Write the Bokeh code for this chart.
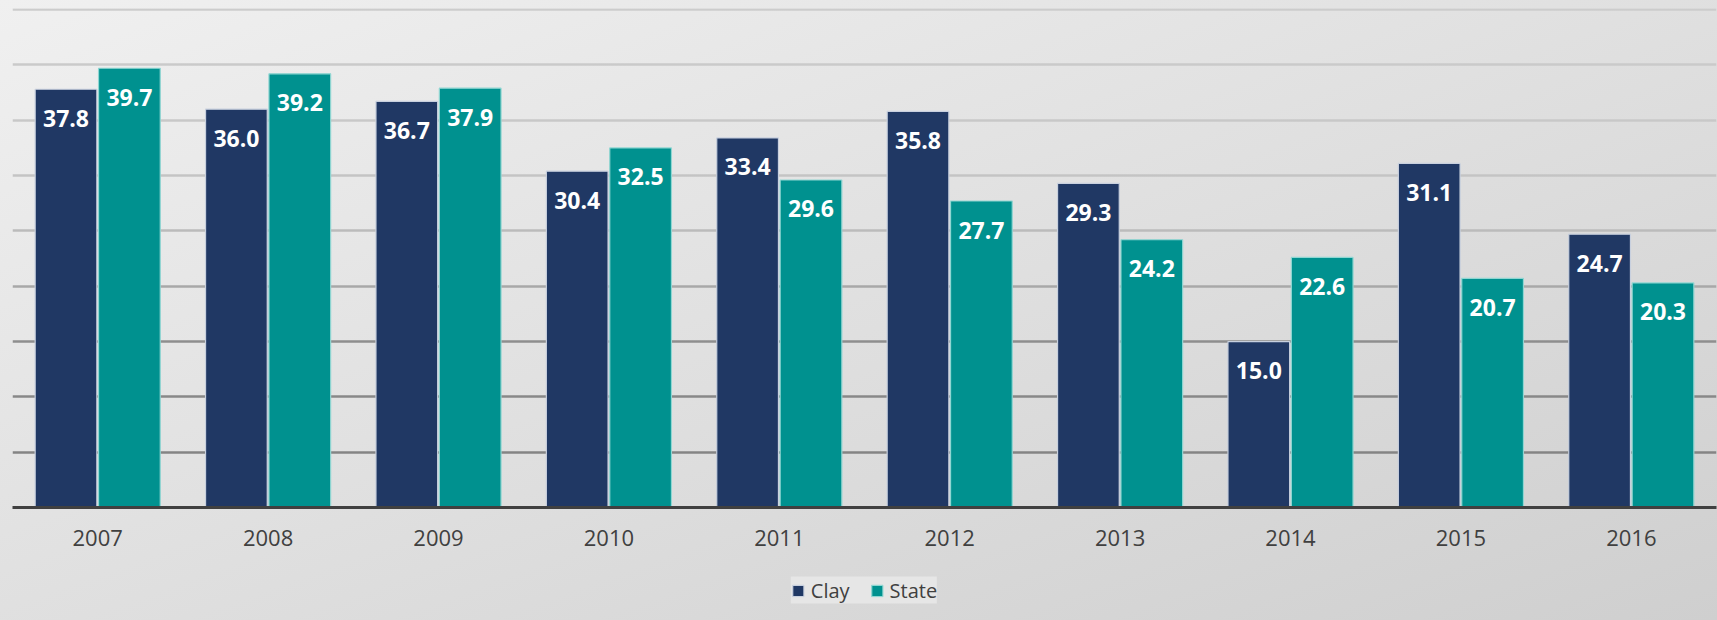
from bokeh.plotting import figure
from bokeh.layouts import column
from bokeh.models import ColumnDataSource, FactorRange, Range1d, Legend, LegendItem
from bokeh.transform import dodge
from bokeh.core.properties import value
from bokeh.embed import file_html
from bokeh.resources import INLINE

years = ["2007", "2008", "2009", "2010", "2011", "2012", "2013", "2014", "2015", "2016"]
clay = [37.8, 36.0, 36.7, 30.4, 33.4, 35.8, 29.3, 15.0, 31.1, 24.7]
state = [39.7, 39.2, 37.9, 32.5, 29.6, 27.7, 24.2, 22.6, 20.7, 20.3]
series_names = ["Clay", "State"]
grid_values = [5, 10, 15, 20, 25, 30, 35, 40, 45]
grid_colors = ["#848484", "#888888", "#8E8E8E", "#A8A8A8", "#BBBBBB", "#C4C4C4", "#C8C8C8", "#CACACA", "#CCCCCC"]

CLAY_C = "#203864"
STATE_C = "#00918F"
CLAY_LINE = "#C8D0DE"
STATE_LINE = "#8FD6D2"

src = ColumnDataSource(dict(
    year=years, clay=clay, state=state,
    clay_lbl=[f"{v:.1f}" for v in clay],
    state_lbl=[f"{v:.1f}" for v in state],
))

p = figure(
    width=1717, height=560,
    x_range=FactorRange(*years, range_padding=0),
    y_range=Range1d(0, 45.1),
    output_backend="svg", toolbar_location=None,
    min_border_left=12, min_border_right=1, min_border_top=8, min_border_bottom=53,
)
p.background_fill_color = None
p.border_fill_color = None
p.outline_line_color = None
p.yaxis.visible = False
p.xgrid.visible = False
p.ygrid.visible = False

p.hspan(y=grid_values, line_color=grid_colors, line_width=2.5)

p.vbar(x=dodge("year", -0.186, range=p.x_range), top="clay", width=0.362, source=src,
       fill_color=CLAY_C, line_color=CLAY_LINE, line_width=1.2)
p.vbar(x=dodge("year", 0.186, range=p.x_range), top="state", width=0.362, source=src,
       fill_color=STATE_C, line_color=STATE_LINE, line_width=1.2)

for col, lbl, off in (("clay", "clay_lbl", -0.186), ("state", "state_lbl", 0.186)):
    p.text(x=dodge("year", off, range=p.x_range), y=col, text=lbl, source=src,
           text_color="white", text_font=value("Open Sans"), text_font_style="bold",
           text_font_size="23px", text_align="center", text_baseline="middle", y_offset=29)

ax = p.xaxis[0]
ax.axis_line_color = "#404040"
ax.axis_line_width = 3
ax.major_tick_line_color = None
ax.minor_tick_line_color = None
ax.major_label_text_font = "Open Sans"
ax.major_label_text_font_size = "22px"
ax.major_label_text_color = "#404040"
ax.major_label_standoff = 16

# legend strip below the chart
lf = figure(width=1717, height=60, x_range=Range1d(0, 1), y_range=Range1d(0, 1),
            output_backend="svg", toolbar_location=None,
            x_axis_location=None, y_axis_location=None,
            min_border_left=0, min_border_right=0, min_border_top=0, min_border_bottom=0)
lf.background_fill_color = None
lf.border_fill_color = None
lf.outline_line_color = None
lf.xgrid.visible = False
lf.ygrid.visible = False
nan = float("nan")
d1 = lf.vbar(x=[nan], top=[nan], width=0.1, fill_color=CLAY_C, line_color=CLAY_LINE, line_width=1.2)
d2 = lf.vbar(x=[nan], top=[nan], width=0.1, fill_color=STATE_C, line_color=STATE_LINE, line_width=1.2)

legend = Legend(items=[LegendItem(label=series_names[0], renderers=[d1]),
                       LegendItem(label=series_names[1], renderers=[d2])],
                orientation="horizontal", location="center")
legend.background_fill_color = "#E6E6E6"
legend.background_fill_alpha = 1
legend.border_line_color = None
legend.label_text_font = "Open Sans"
legend.label_text_font_size = "20px"
legend.label_text_color = "#404040"
legend.glyph_width = 14
legend.glyph_height = 14
legend.label_standoff = 6
legend.spacing = 20
legend.padding = 12
legend.margin = 0
legend.label_height = 22
lf.add_layout(legend)

layout = column(p, lf, spacing=0)
layout.styles = {"background": "linear-gradient(160deg, #F0F0F0 0%, #DEDEDE 55%, #CFCFCF 100%)"}

open("out.html", "w").write(file_html(layout, INLINE))
